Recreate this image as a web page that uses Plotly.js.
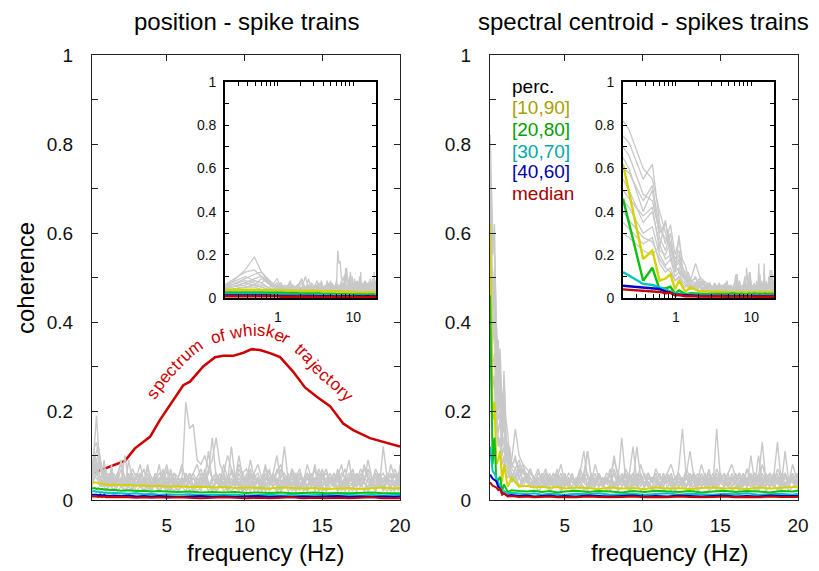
<!DOCTYPE html>
<html>
<head>
<meta charset="utf-8">
<script src="https://cdn.plot.ly/plotly-3.0.1.min.js"></script>
<style>html,body{margin:0;padding:0;background:#fff}#chart{width:819px;height:571px}</style>
</head>
<body>
<div id="chart"></div>
<script>
// ---------------- DATA ----------------
// frequency grid of the individual (gray) coherence curves, Hz
const freq = [0.2,0.24,0.37,0.49,0.61,0.73,0.85,0.98,1.1,1.22,
  1.34,1.46,1.59,1.83,2.07,2.32,2.56,2.8,3.05,3.3,
  3.54,3.78,4.03,4.27,4.52,4.76,5.0,5.25,5.49,5.74,
  5.98,6.23,6.47,6.71,6.96,7.2,7.45,7.69,7.93,8.18,
  8.42,8.67,8.91,9.16,9.4,9.64,9.89,10.13,10.38,10.62,
  10.86,11.11,11.35,11.6,11.84,12.09,12.33,12.57,12.82,13.06,
  13.31,13.55,13.79,14.04,14.28,14.53,14.77,15.01,15.26,15.5,
  15.75,15.99,16.24,16.48,16.72,16.97,17.21,17.46,17.7,17.94,
  18.19,18.43,18.68,18.92,19.17,19.41,19.65,19.9,20.0];

// frequency grid of the percentile curves, Hz
const freqC = [0.2,0.37,0.49,0.61,0.73,0.85,0.98,1.1,1.34,1.59,
  2.07,2.56,3.05,3.54,4.03,4.52,5.0,5.74,6.47,7.2,
  7.93,8.67,9.4,10.13,10.86,11.6,12.33,13.06,13.79,14.53,
  15.26,15.99,16.72,17.46,18.19,18.92,19.65,20.0];

// spectrum of whisker trajectory (left panel, red)
const specF = [0.2,1.36,2.32,2.96,3.93,4.57,5.21,6.07,6.5,7.35,8.11,8.64,9.28,9.93,10.47,11.0,11.64,12.29,13.14,13.89,14.65,15.5,16.35,16.99,18.07,19.04,20.0];
const specC = [0.060,0.075,0.088,0.116,0.142,0.180,0.213,0.258,0.266,0.300,0.321,0.324,0.324,0.331,0.339,0.337,0.330,0.321,0.288,0.253,0.232,0.211,0.172,0.157,0.139,0.130,0.120];

// position - spike trains: individual coherences (gray)
const posGray1 = [.05,.07,.13,.19,.12,.08,.06,.09,.05,.04, .06,.03,.05,.04,.07,.03,.05,.02,.06,.04, .03,.05,.02,.06,.04,.03,.07,.02,.05,.04, .03,.06,.04,.02,.05,.03,.07,.04,.02,.05, .03,.06,.02,.04,.05,.03,.02,.06,.04,.03, .05,.02,.04,.07,.03,.05,.02,.04,.06,.03, .04,.02,.05,.03,.06,.04,.02,.05,.03,.04, .06,.02,.04,.03,.05,.07,.03,.04,.02,.05, .03,.06,.04,.02,.05,.04,.06,.03,.05];
const posGray2 = [.06,.08,.12,.13,.10,.07,.05,.06,.04,.05, .03,.05,.04,.06,.03,.05,.04,.03,.06,.04, .05,.03,.04,.06,.03,.05,.04,.06,.03,.05, .04,.22,.16,.17,.09,.08,.10,.07,.09,.14, .08,.06,.10,.07,.05,.08,.06,.07,.05,.06, .08,.05,.07,.06,.04,.07,.05,.06,.04,.06, .05,.07,.04,.06,.05,.04,.07,.05,.06,.04, .05,.04,.06,.05,.04,.06,.05,.04,.07,.05, .04,.06,.05,.04,.06,.05,.04,.06,.05];
const posGray3 = [.04,.06,.09,.11,.12,.09,.07,.05,.07,.04, .05,.08,.03,.05,.09,.04,.06,.03,.05,.08, .04,.06,.03,.05,.04,.07,.03,.06,.04,.05, .08,.04,.06,.03,.05,.07,.04,.06,.14,.05, .03,.06,.04,.12,.05,.03,.06,.04,.07,.03, .05,.04,.08,.03,.06,.10,.04,.05,.03,.07, .04,.06,.03,.05,.04,.08,.03,.06,.04,.05, .03,.07,.04,.05,.09,.03,.06,.04,.08,.05, .04,.06,.03,.12,.05,.04,.07,.05,.08];
const posGray4 = [.05,.05,.07,.09,.10,.08,.06,.04,.06,.03, .04,.06,.03,.05,.04,.10,.04,.06,.03,.05, .07,.03,.05,.04,.08,.03,.05,.04,.06,.03, .05,.04,.06,.03,.05,.04,.06,.03,.05,.04, .06,.03,.05,.04,.03,.06,.04,.05,.03,.06, .04,.03,.05,.04,.06,.03,.05,.12,.04,.06, .03,.05,.04,.06,.03,.05,.04,.07,.03,.05, .04,.06,.03,.05,.04,.06,.03,.05,.04,.07, .05,.03,.06,.04,.05,.03,.06,.04,.07];
const posGray5 = [.04,.05,.06,.08,.07,.05,.04,.03,.05,.04, .03,.04,.05,.03,.04,.02,.04,.05,.03,.04, .02,.04,.03,.05,.02,.04,.03,.02,.04,.03, .05,.03,.04,.02,.03,.05,.03,.04,.02,.04, .03,.05,.02,.04,.03,.05,.03,.02,.04,.03, .04,.02,.03,.05,.03,.02,.04,.03,.05,.02, .03,.04,.02,.03,.05,.02,.04,.03,.02,.04, .03,.05,.02,.04,.03,.02,.05,.03,.04,.02, .04,.03,.05,.02,.04,.03,.02,.04,.03];
const posGray6 = [.03,.04,.05,.06,.09,.07,.06,.04,.03,.05, .04,.03,.06,.04,.05,.03,.09,.04,.03,.06, .04,.08,.03,.05,.04,.06,.03,.07,.04,.05, .03,.06,.04,.05,.03,.04,.05,.11,.04,.06, .04,.05,.03,.07,.04,.10,.05,.03,.06,.04, .05,.03,.06,.04,.05,.03,.07,.04,.03,.05, .06,.04,.03,.05,.04,.07,.03,.05,.04,.06, .04,.03,.05,.07,.04,.05,.03,.06,.04,.09, .05,.04,.06,.03,.05,.04,.03,.06,.04];
const posGray7 = [.05,.06,.08,.07,.06,.05,.04,.05,.03,.04, .05,.03,.04,.03,.05,.04,.03,.04,.05,.03, .04,.03,.02,.04,.03,.05,.03,.04,.03,.02, .04,.03,.05,.06,.04,.03,.05,.04,.03,.04, .05,.03,.04,.03,.05,.04,.03,.04,.06,.03, .04,.03,.05,.04,.03,.04,.03,.05,.03,.04, .03,.05,.04,.03,.04,.03,.05,.04,.03,.05, .04,.03,.04,.05,.03,.04,.03,.05,.04,.03, .05,.04,.03,.04,.05,.04,.03,.04,.05];
const posGray8 = [.04,.04,.05,.06,.05,.04,.06,.04,.05,.03, .04,.05,.03,.05,.03,.04,.05,.03,.04,.05, .03,.05,.04,.03,.05,.04,.02,.05,.03,.04, .05,.03,.04,.05,.03,.06,.04,.03,.05,.04, .03,.04,.05,.03,.04,.03,.05,.04,.03,.05, .04,.05,.03,.04,.06,.04,.03,.05,.04,.03, .05,.03,.04,.05,.03,.04,.06,.03,.05,.04, .03,.05,.04,.03,.05,.04,.06,.03,.05,.04, .04,.05,.03,.05,.04,.06,.03,.05,.04];
const posGray9 = [.03,.04,.05,.05,.04,.03,.04,.03,.02,.03, .02,.03,.04,.02,.03,.02,.03,.04,.02,.03, .02,.03,.02,.04,.02,.03,.02,.03,.04,.02, .03,.02,.04,.03,.02,.03,.04,.02,.03,.02, .04,.02,.03,.02,.03,.04,.02,.03,.02,.04, .02,.03,.04,.02,.03,.02,.03,.04,.02,.03, .02,.04,.03,.02,.03,.04,.02,.03,.02,.03, .04,.02,.03,.02,.04,.03,.02,.03,.04,.02, .03,.02,.04,.03,.02,.03,.04,.02,.03];
const posGray10 = [.06,.07,.10,.08,.07,.09,.05,.07,.04,.06, .05,.07,.04,.06,.08,.05,.04,.07,.05,.06, .04,.07,.05,.04,.06,.05,.08,.04,.06,.05, .07,.05,.04,.06,.08,.05,.04,.07,.05,.06, .04,.08,.05,.06,.04,.07,.05,.04,.09,.05, .06,.04,.07,.05,.04,.06,.08,.05,.04,.07, .05,.06,.04,.08,.05,.04,.06,.05,.07,.04, .06,.05,.08,.04,.06,.05,.04,.07,.05,.06, .04,.07,.05,.06,.04,.08,.05,.06,.05];
const posGray11 = [.04,.05,.07,.06,.05,.04,.03,.04,.05,.03, .04,.03,.02,.04,.03,.05,.03,.02,.04,.03, .05,.02,.04,.03,.02,.04,.05,.03,.02,.04, .03,.05,.02,.03,.04,.02,.05,.03,.04,.02, .03,.04,.02,.05,.03,.02,.04,.03,.05,.02, .03,.04,.02,.03,.05,.04,.02,.03,.04,.05, .02,.03,.04,.02,.05,.03,.04,.02,.03,.04, .05,.02,.03,.04,.02,.03,.05,.04,.02,.03, .04,.02,.05,.03,.04,.02,.03,.05,.04];

// position - spike trains: percentile curves
const posP10_90 = [.038,.040,.039,.037,.036,.038,.035,.036,.034,.035, .033,.034,.032,.033,.031,.032,.030,.031,.029,.030, .028,.029,.027,.028,.027,.026,.028,.027,.026,.027, .025,.026,.027,.025,.026,.028,.026,.027];
const posP20_80 = [.026,.027,.025,.026,.024,.025,.023,.024,.022,.023, .021,.022,.020,.021,.019,.020,.019,.018,.019,.017, .018,.017,.018,.016,.017,.016,.017,.015,.016,.017, .015,.016,.015,.016,.017,.015,.016,.015];
const posP30_70 = [.019,.020,.018,.019,.017,.018,.016,.017,.015,.016, .015,.014,.015,.013,.014,.012,.013,.012,.013,.011, .012,.011,.012,.010,.011,.012,.010,.011,.010,.011, .012,.010,.011,.010,.011,.010,.011,.012];
const posP40_60 = [.012,.013,.012,.011,.012,.010,.011,.010,.009,.010, .009,.010,.008,.009,.008,.009,.008,.007,.008,.009, .007,.008,.007,.008,.009,.007,.008,.007,.008,.007, .008,.009,.007,.008,.007,.008,.007,.008];
const posMedian = [.008,.009,.008,.007,.008,.007,.008,.006,.007,.006, .007,.006,.005,.006,.005,.006,.005,.006,.005,.004, .005,.006,.005,.004,.005,.004,.005,.006,.004,.005, .004,.005,.004,.005,.006,.004,.005,.004];

// spectral centroid - spike trains: individual coherences (gray)
const centGray1 = [.82,.78,.60,.55,.40,.30,.22,.15,.12,.10, .08,.07,.06,.05,.07,.04,.06,.03,.05,.04, .06,.03,.05,.04,.07,.03,.05,.04,.06,.03, .05,.04,.11,.05,.03,.06,.04,.05,.03,.07, .04,.06,.03,.05,.04,.12,.05,.03,.06,.04, .05,.03,.06,.04,.05,.03,.07,.16,.05,.04, .06,.03,.05,.04,.07,.03,.16,.05,.04,.06, .03,.05,.04,.06,.03,.10,.04,.05,.03,.06, .04,.05,.13,.04,.06,.03,.05,.04,.06];
const centGray2 = [.75,.72,.55,.62,.35,.25,.34,.20,.27,.18, .15,.10,.08,.09,.06,.08,.05,.07,.04,.06, .05,.04,.06,.03,.05,.04,.06,.03,.05,.04, .06,.11,.05,.04,.06,.03,.05,.04,.07,.03, .05,.04,.06,.03,.05,.04,.06,.03,.05,.04, .06,.03,.05,.04,.06,.03,.05,.04,.06,.11, .05,.03,.06,.04,.05,.03,.06,.04,.05,.03, .06,.04,.05,.03,.07,.04,.05,.03,.06,.04, .05,.04,.06,.03,.05,.04,.06,.03,.05];
const centGray3 = [.70,.66,.48,.45,.30,.35,.25,.18,.22,.14, .12,.09,.07,.10,.05,.07,.04,.06,.05,.03, .05,.04,.03,.05,.04,.06,.03,.05,.04,.03, .05,.04,.03,.06,.04,.05,.03,.04,.06,.03, .04,.14,.05,.03,.04,.06,.03,.05,.04,.03, .05,.04,.03,.06,.04,.05,.03,.04,.05,.03, .04,.06,.03,.05,.04,.03,.05,.04,.06,.03, .05,.04,.03,.05,.04,.06,.03,.05,.13,.04, .03,.05,.04,.06,.03,.05,.04,.03,.05];
const centGray4 = [.65,.60,.40,.50,.28,.22,.30,.15,.16,.12, .09,.07,.06,.05,.08,.04,.06,.05,.03,.05, .04,.06,.03,.05,.04,.03,.06,.04,.05,.03, .06,.04,.05,.03,.04,.06,.03,.05,.04,.06, .03,.05,.04,.06,.12,.04,.05,.03,.06,.04, .03,.05,.04,.06,.03,.05,.04,.03,.06,.04, .05,.03,.04,.06,.03,.05,.04,.06,.03,.05, .04,.06,.03,.05,.04,.03,.06,.04,.05,.03, .06,.04,.05,.03,.11,.04,.05,.03,.06];
const centGray5 = [.55,.50,.35,.40,.25,.18,.20,.12,.14,.10, .08,.06,.05,.07,.05,.04,.06,.03,.05,.04, .03,.05,.04,.06,.03,.05,.04,.03,.05,.04, .04,.06,.03,.05,.04,.06,.03,.05,.04,.10, .05,.03,.06,.04,.05,.03,.04,.06,.03,.05, .04,.06,.03,.05,.04,.03,.06,.04,.05,.03, .06,.04,.05,.03,.04,.06,.03,.05,.04,.03, .05,.04,.06,.03,.05,.04,.03,.10,.04,.05, .03,.06,.04,.05,.03,.04,.06,.04,.05];
const centGray6 = [.45,.42,.30,.33,.20,.15,.18,.10,.12,.08, .07,.05,.06,.04,.05,.03,.05,.04,.03,.05, .04,.03,.05,.04,.03,.05,.04,.03,.05,.04, .03,.05,.04,.03,.05,.04,.03,.05,.04,.03, .05,.04,.03,.05,.04,.03,.05,.04,.03,.05, .04,.03,.05,.04,.03,.05,.04,.03,.05,.04, .03,.05,.04,.03,.05,.04,.03,.05,.04,.03, .05,.04,.03,.05,.04,.03,.05,.04,.03,.05, .04,.03,.05,.04,.03,.05,.04,.03,.05];
const centGray7 = [.35,.32,.25,.28,.16,.12,.14,.08,.10,.07, .06,.05,.04,.06,.03,.05,.04,.03,.05,.03, .04,.03,.05,.03,.04,.02,.04,.03,.05,.03, .04,.03,.02,.04,.03,.05,.03,.04,.02,.04, .03,.05,.03,.02,.04,.03,.05,.03,.04,.02, .04,.03,.05,.03,.02,.04,.03,.05,.03,.04, .02,.04,.03,.05,.03,.04,.02,.04,.03,.05, .03,.04,.02,.04,.03,.05,.03,.02,.04,.03, .05,.03,.04,.02,.04,.03,.05,.03,.04];
const centGray8 = [.30,.28,.22,.20,.24,.36,.18,.12,.29,.15, .10,.08,.09,.16,.10,.08,.07,.06,.05,.07, .04,.06,.05,.04,.06,.03,.05,.04,.03,.05, .04,.06,.11,.05,.04,.06,.03,.05,.04,.06, .03,.05,.04,.06,.03,.05,.04,.03,.05,.04, .06,.03,.05,.04,.06,.03,.05,.04,.03,.05, .04,.03,.05,.04,.06,.03,.05,.04,.06,.03, .05,.04,.06,.03,.05,.04,.03,.06,.04,.05, .03,.06,.04,.05,.03,.05,.04,.06,.04];
const centGray9 = [.60,.58,.45,.52,.32,.28,.24,.16,.20,.12, .10,.08,.07,.06,.05,.07,.04,.05,.03,.04, .03,.05,.04,.03,.05,.04,.03,.05,.04,.03, .05,.04,.03,.05,.04,.03,.05,.04,.06,.03, .04,.05,.03,.04,.06,.03,.05,.04,.03,.05, .04,.03,.06,.04,.05,.03,.04,.05,.03,.06, .04,.03,.05,.04,.03,.05,.04,.06,.03,.04, .05,.03,.04,.06,.03,.05,.04,.03,.05,.04, .03,.05,.04,.03,.06,.04,.05,.03,.04];
const centGray10 = [.50,.46,.38,.42,.22,.20,.26,.14,.18,.11, .09,.12,.08,.07,.09,.06,.05,.07,.04,.06, .05,.07,.04,.06,.05,.08,.04,.06,.05,.04, .07,.05,.06,.04,.08,.05,.04,.06,.05,.09, .06,.04,.07,.05,.06,.04,.08,.05,.06,.04, .07,.05,.04,.06,.08,.05,.06,.04,.07,.05, .06,.04,.08,.05,.06,.04,.07,.05,.04,.06, .08,.05,.06,.04,.07,.05,.06,.04,.08,.05, .06,.04,.07,.05,.06,.04,.08,.05,.06];
const centGray11 = [.40,.36,.28,.26,.18,.14,.12,.08,.09,.06, .05,.06,.04,.05,.03,.04,.05,.03,.04,.02, .03,.04,.02,.03,.04,.02,.03,.04,.02,.03, .04,.02,.03,.04,.02,.03,.04,.02,.03,.04, .02,.03,.04,.02,.03,.04,.02,.03,.04,.02, .03,.04,.02,.03,.04,.02,.03,.04,.02,.03, .04,.02,.03,.04,.02,.03,.04,.02,.03,.04, .02,.03,.04,.02,.03,.04,.02,.03,.04,.02, .03,.04,.02,.03,.04,.02,.03,.04,.02];

// spectral centroid - spike trains: percentile curves
const centP10_90 = [.62,.18,.22,.08,.09,.11,.04,.08,.03,.05, .03,.032,.028,.030,.027,.029,.026,.028,.027,.025, .028,.026,.027,.025,.028,.026,.027,.025,.027,.028, .026,.027,.025,.028,.026,.027,.029,.030];
const centP20_80 = [.46,.08,.14,.04,.045,.052,.02,.035,.018,.022, .02,.019,.021,.018,.02,.017,.019,.021,.018,.02, .019,.017,.02,.018,.021,.019,.018,.02,.017,.019, .021,.018,.02,.019,.017,.02,.019,.021];
const centP30_70 = [.12,.065,.06,.05,.04,.03,.018,.02,.015,.016, .014,.013,.015,.012,.014,.013,.012,.014,.013,.015, .012,.013,.014,.012,.013,.015,.012,.014,.013,.012, .014,.013,.015,.012,.013,.014,.012,.014];
const centP40_60 = [.057,.048,.045,.042,.03,.025,.015,.014,.01,.011, .009,.01,.008,.009,.01,.008,.009,.008,.01,.009, .008,.009,.01,.008,.009,.008,.01,.009,.008,.009, .01,.008,.009,.008,.01,.009,.008,.009];
const centMedian = [.04,.032,.03,.028,.022,.025,.012,.015,.008,.009, .007,.008,.006,.007,.008,.006,.007,.006,.008,.007, .006,.007,.008,.006,.007,.006,.008,.007,.006,.007, .008,.006,.007,.006,.008,.007,.006,.007];

// tick labels and texts
const mainYTickVals = [0,0.1,0.2,0.3,0.4,0.5,0.6,0.7,0.8,0.9,1];
const mainYTickText = ['0','','0.2','','0.4','','0.6','','0.8','','1'];
const mainXTickVals = [5,10,15,20];
const insetXTickVals = [0.3,0.4,0.5,0.6,0.7,0.8,0.9,1,2,3,4,5,6,7,8,9,10];
const insetXTickText = ['','','','','','','','1','','','','','','','','','10'];
const legendLabels = ['perc.','[10,90]','[20,80]','[30,70]','[40,60]','median'];
const panelTitles = ['position - spike trains','spectral centroid - spikes trains'];
const curveLabel = 'spectrum  of whisker  trajectory';

// ---------------- STYLE / LAYOUT ----------------
const W = 819, H = 571;
const FONT = 'Liberation Sans, Arial, Helvetica, sans-serif';
const GRAY = '#c8c8c8';
const pctColors = ['#d6d200','#10c010','#00c4c4','#0000c8','#c80000'];
const legendColors = ['#000000','#a8a000','#00a000','#00a8a8','#0000a8','#a80000'];
const SPEC_COLOR = '#cc0000';

const box = {
  mainL:{x0:92,x1:400}, mainR:{x0:490,x1:798}, mainY:{top:55,bot:500},
  insL:{x0:225,x1:376}, insR:{x0:623,x1:774}, insY:{top:82,bot:298}
};
const dx = b => [b.x0/W, b.x1/W];
const dy = b => [1-b.bot/H, 1-b.top/H];

const traces = [];
// left main spectrum first (gray lines drawn over it)
traces.push({x:specF, y:specC, xaxis:'x', yaxis:'y', mode:'lines', line:{color:SPEC_COLOR, width:2.5}, hoverinfo:'skip'});

function addPanel(grays, pcts, xa, ya, wGray, wPct) {
  grays.forEach(g => traces.push({x:freq, y:g, xaxis:xa, yaxis:ya, mode:'lines', line:{color:GRAY, width:wGray}, hoverinfo:'skip'}));
  pcts.forEach((p,i) => traces.push({x:freqC, y:p, xaxis:xa, yaxis:ya, mode:'lines', line:{color:pctColors[i], width:wPct}, hoverinfo:'skip'}));
}
const posGrays = [posGray1,posGray2,posGray3,posGray4,posGray5,posGray6,posGray7,posGray8,posGray9,posGray10,posGray11];
const posPcts = [posP10_90,posP20_80,posP30_70,posP40_60,posMedian];
const centGrays = [centGray1,centGray2,centGray3,centGray4,centGray5,centGray6,centGray7,centGray8,centGray9,centGray10,centGray11];
const centPcts = [centP10_90,centP20_80,centP30_70,centP40_60,centMedian];
addPanel(posGrays, posPcts, 'x', 'y', 1.4, 2);
addPanel(centGrays, centPcts, 'x2', 'y2', 1.4, 2);
addPanel(posGrays, posPcts, 'x3', 'y3', 1.3, 2.4);
addPanel(centGrays, centPcts, 'x4', 'y4', 1.3, 2.4);

const axBase = {
  showgrid:false, zeroline:false, showline:true, linecolor:'#222', linewidth:1,
  ticks:'inside', tickcolor:'#222', ticklen:6, tickwidth:1, mirror:'ticks',
  automargin:false, fixedrange:true, tickfont:{family:FONT, size:19, color:'#111'}
};
const mainX = (b, anchor) => Object.assign({}, axBase, {domain:dx(b), anchor, range:[0.2,20], tickmode:'array', tickvals:mainXTickVals, ticklabelstandoff:8});
const mainY = (anchor) => Object.assign({}, axBase, {domain:dy(box.mainY), anchor, range:[0,1], tickmode:'array', tickvals:mainYTickVals, ticktext:mainYTickText, ticklabelstandoff:14});
const insBase = Object.assign({}, axBase, {linecolor:'#000', linewidth:1.8, tickcolor:'#000', ticklen:4, tickfont:{family:FONT, size:14, color:'#111'}});
const insX = (b, anchor) => Object.assign({}, insBase, {domain:dx(b), anchor, type:'log', range:[Math.log10(0.2), Math.log10(20)], tickmode:'array', tickvals:insetXTickVals, ticktext:insetXTickText, ticklabelstandoff:5});
const insY = (anchor) => Object.assign({}, insBase, {domain:dy(box.insY), anchor, range:[0,1], tickmode:'array', tickvals:mainYTickVals, ticktext:mainYTickText, ticklabelstandoff:4});

const annotations = [];
const ann = (text, xpx, ypx, opt) => annotations.push(Object.assign({
  text, x:xpx/W, y:1-ypx/H, xref:'paper', yref:'paper', showarrow:false,
  xanchor:'center', yanchor:'middle', font:{family:FONT, size:24, color:'#000'}
}, opt||{}));

ann(panelTitles[0], 246, 22);
ann(panelTitles[1], 643, 22);
ann('coherence', 25, 278, {textangle:-90});
ann('frequency (Hz)', 265, 552);
ann('frequency (Hz)', 669, 552);
const legY = [87,108,129,151,172,193];
legendLabels.forEach((t,i) => ann(t, 510, legY[i], {xanchor:'left', font:{family:FONT, size:19, color:legendColors[i]}}));

// ---- curved label following the whisker spectrum ----
(function () {
  const b = box.mainL, yb = box.mainY;
  const toPx = (f,c) => [b.x0 + (f-0.2)/(20-0.2)*(b.x1-b.x0), yb.bot - c*(yb.bot-yb.top)];
  const pts = [];
  for (let i=0;i<specF.length-1;i++) {
    const a = toPx(specF[i],specC[i]), c = toPx(specF[i+1],specC[i+1]);
    const n = Math.max(1, Math.ceil(Math.hypot(c[0]-a[0], c[1]-a[1])));
    for (let k=0;k<n;k++) pts.push([a[0]+(c[0]-a[0])*k/n, a[1]+(c[1]-a[1])*k/n]);
  }
  pts.push(toPx(specF[specF.length-1], specC[specC.length-1]));
  const win = 18;
  const sm = pts.map((p,i) => { let sx=0, sy=0, n=0; for (let j=Math.max(0,i-win); j<=Math.min(pts.length-1,i+win); j++){sx+=pts[j][0]; sy+=pts[j][1]; n++;} return [sx/n, sy/n]; });
  const d = 21;
  const off = sm.map((p,i) => { const a=sm[Math.max(0,i-4)], c=sm[Math.min(sm.length-1,i+4)]; let ux=c[0]-a[0], uy=c[1]-a[1]; const L=Math.hypot(ux,uy)||1; ux/=L; uy/=L; return [p[0]+uy*d, p[1]-ux*d]; });
  const cum = [0];
  for (let i=1;i<off.length;i++) cum.push(cum[i-1] + Math.hypot(off[i][0]-off[i-1][0], off[i][1]-off[i-1][1]));
  const startX = 150, endX = 350;
  let i0 = off.findIndex(p => p[0] >= startX), i1 = off.findIndex(p => p[0] >= endX);
  if (i1 < 0) i1 = off.length-1;
  const size = 17;
  const ctx = document.createElement('canvas').getContext('2d');
  ctx.font = size + 'px "Liberation Sans", Arial, sans-serif';
  const chars = curveLabel.split('');
  const widths = chars.map(ch => ctx.measureText(ch).width);
  const total = widths.reduce((s,w)=>s+w, 0);
  const k = (cum[i1]-cum[i0]) / total;
  const at = s => { let j = i0; while (j < cum.length-2 && cum[j+1] < s) j++; const t = (s-cum[j])/((cum[j+1]-cum[j])||1); const a=off[j], c=off[j+1]; const lo=off[Math.max(0,j-3)], hi=off[Math.min(off.length-1,j+4)]; return [a[0]+(c[0]-a[0])*t, a[1]+(c[1]-a[1])*t, Math.atan2(hi[1]-lo[1], hi[0]-lo[0])*180/Math.PI]; };
  let acc = 0;
  chars.forEach((ch, idx) => {
    const w = widths[idx];
    if (ch !== ' ') {
      const p = at(cum[i0] + (acc + w/2)*k);
      ann(ch, p[0], p[1], {textangle:p[2], font:{family:FONT, size:size, color:SPEC_COLOR}});
    }
    acc += w;
  });
})();

const layout = {
  width:W, height:H, margin:{l:0,r:0,t:0,b:0}, showlegend:false,
  paper_bgcolor:'#fff', plot_bgcolor:'#fff', font:{family:FONT, color:'#000'},
  xaxis: mainX(box.mainL,'y'), yaxis: mainY('x'),
  xaxis2: mainX(box.mainR,'y2'), yaxis2: mainY('x2'),
  xaxis3: insX(box.insL,'y3'), yaxis3: insY('x3'),
  xaxis4: insX(box.insR,'y4'), yaxis4: insY('x4'),
  annotations
};
Plotly.newPlot('chart', traces, layout, {displayModeBar:false, staticPlot:true});
</script>
</body>
</html>
